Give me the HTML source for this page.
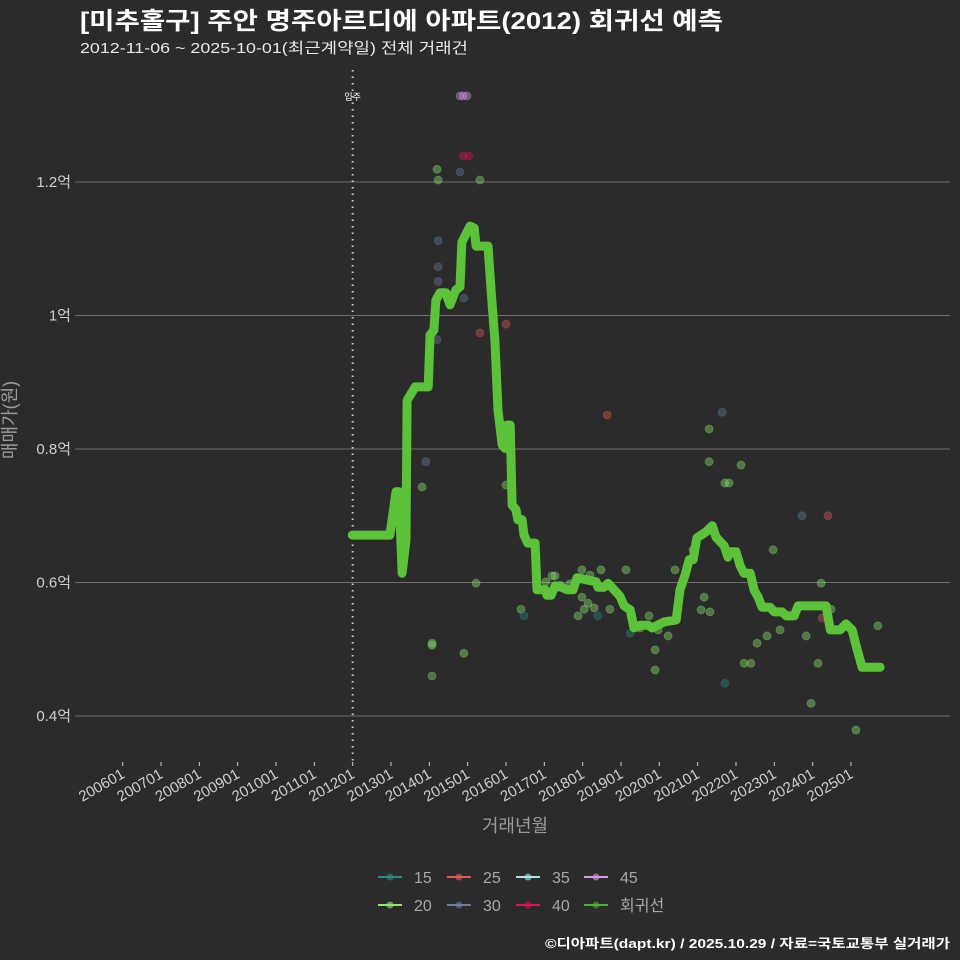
<!DOCTYPE html>
<html><head><meta charset="utf-8"><style>
html,body{margin:0;padding:0;background:#2b2b2b;}
svg{display:block;font-family:"Liberation Sans","Noto Sans CJK KR",sans-serif;}
</style></head><body>
<svg id="c" width="960" height="960" viewBox="0 0 960 960">
<rect width="960" height="960" fill="#2b2b2b"/>
<text x="80" y="29" fill="#fff" font-size="24" font-weight="bold" textLength="643" lengthAdjust="spacingAndGlyphs">[미추홀구] 주안 명주아르디에 아파트(2012) 회귀선 예측</text>
<text x="80" y="53" fill="#e8e8e8" font-size="15" textLength="388" lengthAdjust="spacingAndGlyphs">2012-11-06 ~ 2025-10-01(최근계약일) 전체 거래건</text>
<g id="grid"></g>
<g id="yt"></g>
<g id="xt"></g>
<g id="mk"></g>
<g id="pts"></g>
<path id="line" fill="none" stroke="#5cc23a" stroke-width="9" stroke-linejoin="round" stroke-linecap="round"/>
<text x="16" y="420" fill="#9a9a9a" font-size="18" text-anchor="middle" transform="rotate(-90 16 420)">매매가(원)</text>
<text x="515" y="832" fill="#9a9a9a" font-size="18" text-anchor="middle">거래년월</text>
<g id="leg"></g>
<text x="950" y="948" fill="#fff" font-size="13" font-weight="bold" text-anchor="end" textLength="405" lengthAdjust="spacingAndGlyphs">©디아파트(dapt.kr) / 2025.10.29 / 자료=국토교통부 실거래가</text>
</svg>
<script>
const yTicks=[0.4,0.6,0.8,1.0,1.2];
const yTickLabels=["0.4억","0.6억","0.8억","1억","1.2억"];
const xTickYears=[2006,2007,2008,2009,2010,2011,2012,2013,2014,2015,2016,2017,2018,2019,2020,2021,2022,2023,2024,2025];
const xTickLabels=["200601","200701","200801","200901","201001","201101","201201","201301","201401","201501","201601","201701","201801","201901","202001","202101","202201","202301","202401","202501"];
const moveInYear=2012.0;
const lineYears=[2011.99,2012.97,2013.13,2013.21,2013.29,2013.39,2013.42,2013.63,2013.97,2014.02,2014.12,2014.17,2014.28,2014.43,2014.54,2014.69,2014.80,2014.85,2015.06,2015.17,2015.22,2015.53,2015.63,2015.71,2015.79,2015.90,2015.97,2016.03,2016.11,2016.16,2016.26,2016.31,2016.42,2016.47,2016.57,2016.76,2016.81,2017.02,2017.07,2017.18,2017.28,2017.49,2017.59,2017.75,2017.85,2018.35,2018.40,2018.56,2018.66,2018.82,2018.97,2019.08,2019.24,2019.34,2019.50,2019.71,2019.81,2020.13,2020.44,2020.54,2020.67,2020.78,2020.88,2020.98,2021.22,2021.38,2021.48,2021.69,2021.79,2021.85,2022.00,2022.11,2022.21,2022.37,2022.47,2022.58,2022.68,2022.89,2023.00,2023.20,2023.31,2023.52,2023.62,2024.35,2024.46,2024.72,2024.87,2025.03,2025.13,2025.29,2025.76];
const lineValues=[0.671,0.671,0.736,0.736,0.614,0.664,0.873,0.893,0.893,0.971,0.978,1.023,1.034,1.034,1.016,1.038,1.043,1.110,1.134,1.131,1.104,1.104,1.023,0.963,0.858,0.806,0.801,0.836,0.836,0.716,0.709,0.694,0.694,0.671,0.659,0.659,0.589,0.589,0.581,0.581,0.595,0.592,0.589,0.589,0.607,0.601,0.593,0.593,0.599,0.589,0.580,0.565,0.559,0.532,0.536,0.536,0.532,0.541,0.544,0.589,0.611,0.634,0.634,0.667,0.676,0.685,0.668,0.655,0.638,0.646,0.646,0.625,0.614,0.614,0.589,0.578,0.563,0.563,0.556,0.556,0.550,0.550,0.565,0.565,0.529,0.529,0.538,0.529,0.506,0.473,0.473];
const ptYears=[2014.20,2014.23,2014.23,2014.23,2014.23,2014.20,2013.91,2013.81,2014.07,2014.07,2014.07,2014.80,2014.88,2014.98,2014.88,2015.03,2014.80,2015.32,2014.90,2015.32,2016.00,2016.00,2015.22,2014.90,2016.39,2016.47,2017.04,2017.20,2017.28,2017.41,2017.67,2017.88,2017.98,2017.98,2018.04,2018.14,2018.19,2018.30,2018.40,2018.48,2018.64,2018.71,2019.13,2019.24,2019.50,2019.65,2019.73,2019.89,2019.89,2019.97,2020.23,2020.41,2020.88,2021.09,2021.17,2021.30,2021.30,2021.32,2021.64,2021.71,2021.82,2021.71,2022.13,2022.21,2022.39,2022.55,2022.81,2022.97,2023.15,2023.72,2023.83,2023.96,2024.14,2024.22,2024.25,2024.40,2024.48,2025.13,2025.70];
const ptValues=[1.219,1.203,1.112,1.073,1.051,0.964,0.781,0.743,0.509,0.506,0.460,1.329,1.329,1.329,1.239,1.239,1.215,1.203,1.026,0.974,0.987,0.746,0.599,0.494,0.560,0.550,0.601,0.610,0.610,0.596,0.598,0.550,0.619,0.578,0.560,0.569,0.611,0.562,0.550,0.619,0.851,0.560,0.619,0.524,0.532,0.536,0.550,0.499,0.469,0.529,0.520,0.619,0.649,0.559,0.578,0.830,0.781,0.556,0.855,0.749,0.749,0.449,0.776,0.479,0.479,0.509,0.520,0.649,0.529,0.700,0.520,0.419,0.479,0.599,0.547,0.700,0.560,0.379,0.535];
const ptSizes=[20,20,30,30,30,30,30,20,20,20,20,45,45,45,40,40,30,20,30,25,25,20,20,20,20,15,20,20,20,20,20,20,20,20,20,20,20,20,15,20,25,20,20,15,20,20,20,20,20,20,20,20,20,20,20,20,20,20,30,20,20,15,20,20,20,20,20,20,20,30,20,20,20,20,25,25,20,20,20];
const legendKeys=["15","25","35","45","20","30","40","회귀선"];
const colors={"15":"#2a8a80","20":"#8fe870","25":"#e05a5a","30":"#6a7ca0","35":"#a8e6e6","40":"#e0105a","45":"#d898e8","회귀선":"#4cb030"};

const NS="http://www.w3.org/2000/svg";
const X=y=>122.7+(y-2006)*38.33;
const Y=v=>716-(v-0.4)*667.5;
function mk(tag,attrs,parent){const e=document.createElementNS(NS,tag);for(const k in attrs)e.setAttribute(k,attrs[k]);parent.appendChild(e);return e;}
const grid=document.getElementById('grid'),yt=document.getElementById('yt'),xt=document.getElementById('xt');
yTicks.forEach((v,i)=>{
 const l=mk('line',{x1:75,x2:950,y1:Y(v),y2:Y(v),stroke:'#6e6e6e','stroke-width':1},grid);
 
 
 const t=mk('text',{x:71,y:Y(v)+5,fill:'#cfcfcf','font-size':15,'text-anchor':'end'},yt);
 t.textContent=yTickLabels[i];
 
 
});
xTickYears.forEach((yr,i)=>{
 const x=X(yr);
 const l=mk('line',{x1:x,x2:x,y1:762,y2:766,stroke:'#cfcfcf','stroke-width':1},xt);
 
 
 const t=mk('text',{x:x+3,y:777,fill:'#cfcfcf','font-size':15,'text-anchor':'end',transform:`rotate(-30 ${x+3} 777)`},xt);
 t.textContent=xTickLabels[i];
 
 
});
const m=document.getElementById('mk');
const mx=X(moveInYear);
const ml=mk('line',{x1:mx,x2:mx,y1:70,y2:765,stroke:'#cfcfcf','stroke-width':2,'stroke-dasharray':'1.5 5'},m);


const mt=mk('text',{x:mx,y:100,fill:'#fff','font-size':9,'text-anchor':'middle'},m);
mt.textContent='입주';


const pts=document.getElementById('pts');
ptYears.forEach((yr,i)=>{
 const c=mk('circle',{cx:X(yr),cy:Y(ptValues[i]),r:4,fill:colors[ptSizes[i]],'fill-opacity':0.4,stroke:colors[ptSizes[i]],'stroke-opacity':0.3,'stroke-width':1},pts);
 
 
});
document.getElementById('line').setAttribute('d',lineYears.map((yr,i)=>(i?'L':'M')+X(yr).toFixed(1)+','+Y(lineValues[i]).toFixed(1)).join(''));
const leg=document.getElementById('leg');
const colX=[378,447,516,584];
legendKeys.forEach((k,i)=>{
 const cx=colX[i%4],cy=i<4?877:905;
 const g=mk('g',{},leg);
 
 
 mk('line',{x1:cx,x2:cx+24,y1:cy,y2:cy,stroke:colors[k],'stroke-width':2},g);
 mk('circle',{cx:cx+12,cy:cy,r:3.5,fill:colors[k],'fill-opacity':0.6},g);
 const t=mk('text',{x:cx+36,y:cy+6,fill:'#a8a8a8','font-size':16},g);
 t.textContent=k;
});
</script>
</body></html>
